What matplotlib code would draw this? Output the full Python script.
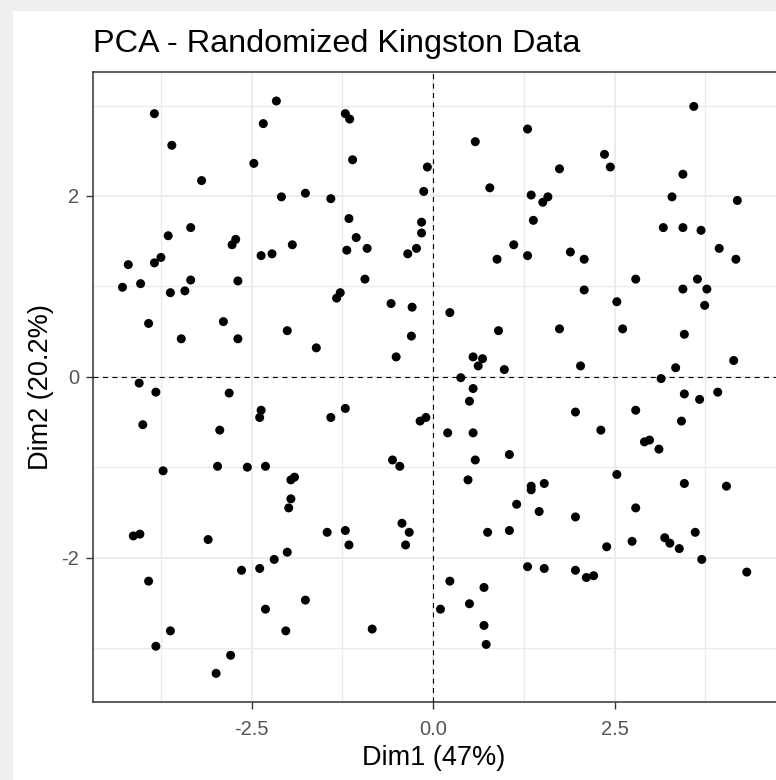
import matplotlib
matplotlib.use('Agg')
import matplotlib.pyplot as plt
from matplotlib.patches import Rectangle
import numpy as np

# individual coordinates
dim1 = [
    -3.84, -2.16, -2.34, -1.21, -1.15, -3.60, -2.47, -1.11, -3.19, -0.08,
    -2.09, -1.76, -1.41, -0.13, -1.16, -3.65, -3.34, -2.77, -2.72, -1.94,
    -1.06, -0.16, -0.16, -4.20, -3.84, -3.75, -2.37, -2.22, -1.19, -0.91,
    -0.35, -0.23, -4.28, -4.03, -3.62, -3.42, -3.34, -2.69, -1.33, -1.28,
    -0.94, -3.92, -2.89, -3.47, -2.69, -2.01, -1.61, -0.58, -0.29, -0.30,
    -0.51,
    -4.05, -3.82, -2.81, -2.37, -2.39, -1.41, -1.21, -0.18, -0.10, -4.00,
    -2.94, -3.72, -2.97, -2.56, -2.31, -1.96, -1.91, -1.96, -1.99, -0.56,
    -0.46, -4.13, -4.04, -3.10, -1.46, -1.21, -1.16, -0.43, -0.33, -0.38,
    -2.01, -2.19, -2.39, -2.64, -3.92, -1.76, -2.31, -3.62, -2.03, -0.84,
    -3.82, -2.79, -2.99,
    3.59, 1.30, 0.58, 2.36, 2.44, 1.74, 3.44, 0.78, 1.35, 1.51,
    1.58, 3.29, 4.19, 1.38, 3.17, 3.44, 3.69, 1.11, 0.88, 1.30,
    1.89, 2.08, 3.94, 4.17, 2.79, 3.64, 2.08, 3.44, 3.77, 2.53,
    3.74, 0.23, 0.90, 1.74, 2.61, 3.46, 0.55, 0.68, 0.62, 0.98,
    2.03, 3.34, 4.14, 0.38, 3.14,
    0.55, 0.50, 3.46, 3.67, 3.92, 1.96, 2.79, 3.42, 0.20, 0.55,
    2.31, 2.91, 2.98, 3.11, 0.58, 1.05, 0.48, 2.53, 1.35, 1.35,
    1.53, 3.46, 4.04, 1.15, 1.46, 1.96, 2.79, 0.75, 1.05, 2.74,
    3.19, 3.26, 3.39, 3.61, 2.39, 3.70, 1.30, 1.53, 1.96, 2.11,
    2.21, 4.32, 0.23, 0.70, 0.10, 0.50, 0.70, 0.73,
]
dim2 = [
    2.91, 3.05, 2.80, 2.91, 2.85, 2.56, 2.36, 2.40, 2.17, 2.32,
    1.99, 2.03, 1.97, 2.05, 1.75, 1.56, 1.65, 1.46, 1.52, 1.46,
    1.54, 1.71, 1.59, 1.24, 1.26, 1.32, 1.34, 1.36, 1.40, 1.42,
    1.36, 1.42, 0.99, 1.03, 0.93, 0.95, 1.07, 1.06, 0.87, 0.93,
    1.08, 0.59, 0.61, 0.42, 0.42, 0.51, 0.32, 0.81, 0.77, 0.45,
    0.22,
    -0.07, -0.17, -0.18, -0.37, -0.45, -0.45, -0.35, -0.49, -0.45, -0.53,
    -0.59, -1.04, -0.99, -1.00, -0.99, -1.14, -1.11, -1.35, -1.45, -0.92,
    -0.99, -1.76, -1.74, -1.80, -1.72, -1.70, -1.86, -1.62, -1.72, -1.86,
    -1.94, -2.02, -2.12, -2.14, -2.26, -2.47, -2.57, -2.81, -2.81, -2.79,
    -2.98, -3.08, -3.28,
    2.99, 2.74, 2.60, 2.46, 2.32, 2.30, 2.24, 2.09, 2.01, 1.93,
    1.99, 1.99, 1.95, 1.73, 1.65, 1.65, 1.62, 1.46, 1.30, 1.34,
    1.38, 1.30, 1.42, 1.30, 1.08, 1.08, 0.96, 0.97, 0.97, 0.83,
    0.79, 0.71, 0.51, 0.53, 0.53, 0.47, 0.22, 0.20, 0.12, 0.08,
    0.12, 0.10, 0.18, -0.01, -0.02,
    -0.13, -0.27, -0.19, -0.25, -0.17, -0.39, -0.37, -0.49, -0.62, -0.62,
    -0.59, -0.72, -0.70, -0.80, -0.92, -0.86, -1.14, -1.08, -1.21, -1.25,
    -1.18, -1.18, -1.21, -1.41, -1.49, -1.55, -1.45, -1.72, -1.70, -1.82,
    -1.78, -1.84, -1.90, -1.72, -1.88, -2.02, -2.10, -2.12, -2.14, -2.22,
    -2.20, -2.16, -2.26, -2.33, -2.57, -2.51, -2.75, -2.96,
]

title = 'PCA - Randomized Kingston Data'
xlabel = 'Dim1 (47%)'
ylabel = 'Dim2 (20.2%)'
xticks = [-2.5, 0.0, 2.5]
yticks = [-2, 0, 2]

plt.rcParams['font.family'] = ['Liberation Sans', 'DejaVu Sans']

W, H = 776, 780
fig = plt.figure(figsize=(W / 100, H / 100), dpi=100, facecolor='#efefef')
# white plot area of the viewer window
fig.patches.append(Rectangle((13 / W, 0), 1, (H - 11) / H, transform=fig.transFigure,
                             facecolor='white', edgecolor='none', zorder=-5))

ax = fig.add_axes([92.7 / W, (H - 702.3) / H, (778 - 92.7) / W, (702.3 - 71.7) / H])
ax.set_facecolor('white')

ax.set_xlim(-4.69, 4.75)
ax.set_ylim(-3.60, 3.374)

ax.set_xticks(xticks)
ax.set_xticklabels(['-2.5', '0.0', '2.5'])
ax.set_yticks(yticks)
ax.set_yticklabels(['-2', '0', '2'])
ax.set_xticks([-3.75, -1.25, 1.25, 3.75], minor=True)
ax.set_yticks([-3, -1, 1, 3], minor=True)

ax.grid(which='major', color='#ebebeb', linewidth=1.3, zorder=0)
ax.grid(which='minor', color='#ebebeb', linewidth=1.0, zorder=0)
ax.set_axisbelow(True)

ax.tick_params(which='minor', length=0)
ax.tick_params(which='major', length=4.8, width=1.0, color='#333333',
               labelsize=14.5, labelcolor='#555555')
ax.tick_params(axis='x', pad=8.0)
ax.tick_params(axis='y', pad=5)

for s in ax.spines.values():
    s.set_color('#333333')
    s.set_linewidth(1.1)

ax.scatter(dim1, dim2, s=42, color='black', edgecolors='none', zorder=3)

ax.axhline(0, color='black', linewidth=0.8, linestyle=(0, (4.5, 4)), zorder=4)
ax.axvline(0, color='black', linewidth=0.8, linestyle=(0, (4.5, 4)), zorder=4)

fig.text(92.7 / W, (H - 52) / H, title, fontsize=23.3, color='black',
         ha='left', va='baseline')
fig.text(434 / W, (H - 765) / H, xlabel, fontsize=19.5, color='black',
         ha='center', va='baseline')
fig.text(41.5 / W, (H - 387) / H, ylabel, fontsize=19.5, color='black',
         ha='center', va='center', rotation=90)

plt.savefig('out.png', dpi=100, facecolor=fig.get_facecolor())
